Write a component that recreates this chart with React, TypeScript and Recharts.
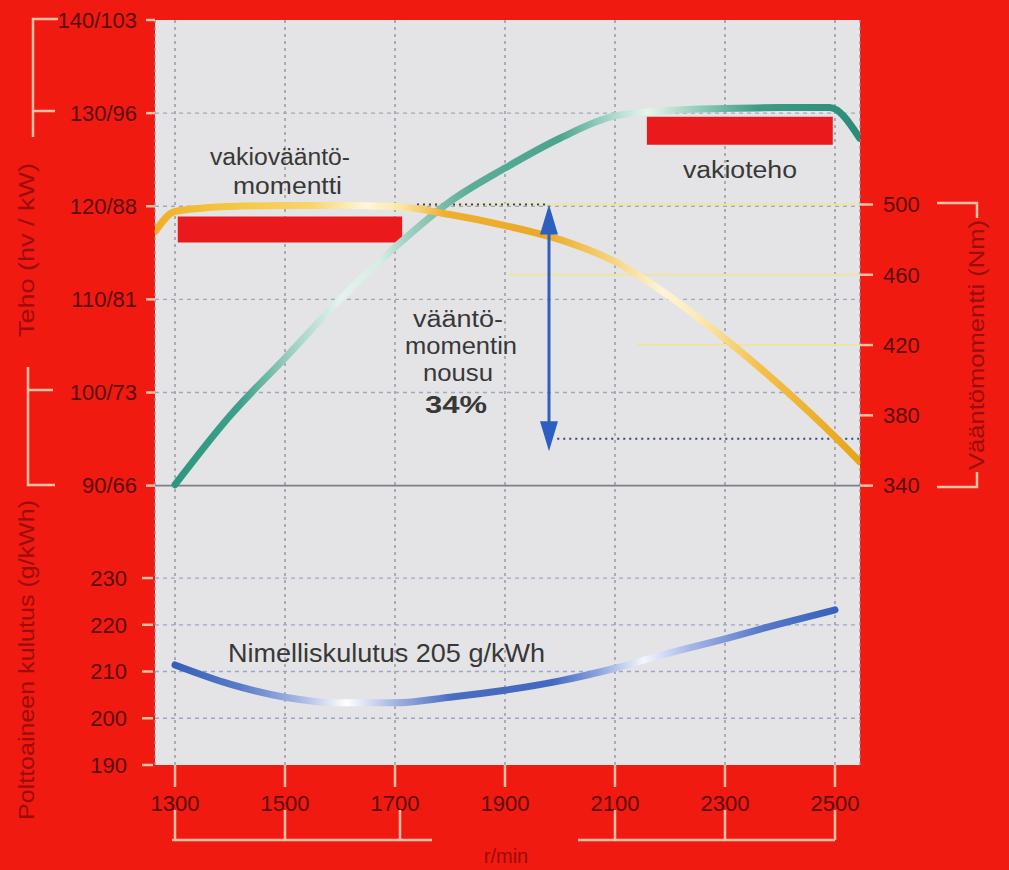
import React from 'react';
import {
  ComposedChart,
  Line,
  XAxis,
  YAxis,
  CartesianGrid,
  ReferenceLine,
  ReferenceArea,
} from 'recharts';

// engine speed ticks (r/min)
const rpmTicks = [1300, 1500, 1700, 1900, 2100, 2300, 2500];

// power curve (hv)
const powerRpm = [1300, 1400, 1500, 1600, 1700, 1800, 1900, 2000, 2100, 2200, 2300, 2400, 2490, 2545];
const powerHp = [90.1, 97.5, 103.7, 110, 115.6, 120.5, 124.1, 127.3, 129.7, 130.3, 130.5, 130.6, 130.6, 127.3];

// torque curve (Nm)
const torqueRpm = [1264, 1300, 1400, 1500, 1600, 1700, 1800, 1900, 2000, 2100, 2200, 2300, 2400, 2500, 2545];
const torqueNm = [484.6, 496, 498.8, 499.4, 499.4, 498.8, 494.3, 488, 480, 467.5, 447.6, 423.6, 397, 367.8, 353.6];

// fuel consumption (g/kWh)
const fuelRpm = [1300, 1400, 1500, 1600, 1700, 1800, 1900, 2000, 2100, 2200, 2300, 2400, 2500];
const fuelG = [211.4, 207.3, 204.5, 203.3, 203.3, 204.5, 206, 208, 210.7, 214, 217, 220.2, 223.2];

// axis ticks and labels
const powerTicks = [90, 100, 110, 120, 130, 140];
const powerLabels = ['90/66', '100/73', '110/81', '120/88', '130/96', '140/103'];
const fuelTicks = [190, 200, 210, 220, 230];
const torqueTicks = [340, 380, 420, 460, 500];

// annotations
const constTorqueBand = { x1: 1305, x2: 1713, y1: 116.1, y2: 118.9 };
const constPowerBand = { x1: 2158, x2: 2496, y1: 126.6, y2: 129.6 };
const riseRpm = 1980;
const riseTop = 500;
const riseBottom = 359.5;
const riseLevel = 366.7;

const allRpm = Array.from(new Set([...powerRpm, ...torqueRpm, ...fuelRpm])).sort((a, b) => a - b);
const pick = (xs: number[], ys: number[], r: number) => {
  const i = xs.indexOf(r);
  return i >= 0 ? ys[i] : null;
};
const chartData = allRpm.map((r) => ({
  rpm: r,
  power: pick(powerRpm, powerHp, r),
  torque: pick(torqueRpm, torqueNm, r),
  fuel: pick(fuelRpm, fuelG, r),
}));

const RED = '#f01a10';
const PLOT_BG = '#e4e4e6';
const LABEL = '#5a0d0d';
const TITLE = '#9c0c0c';
const PALE = '#f6bfa6';
const ARROW = '#2c5fbf';
const TEXT = '#383838';
const FONT = 'Liberation Sans, Arial, sans-serif';

const fuelTick = (text: string) => (props: any) => {
  const { x, y } = props.viewBox;
  return (
    <g>
      <line x1={x - 13} x2={x - 2} y1={y} y2={y} stroke={PALE} strokeWidth={2.5} />
      <text x={x - 28} y={y} dy="0.36em" textAnchor="end" fill={LABEL} fontSize={22} fontFamily={FONT}>
        {text}
      </text>
    </g>
  );
};

const DoubleArrow = (p: any) => {
  const x = p.x1;
  const top = Math.min(p.y1, p.y2);
  const bot = Math.max(p.y1, p.y2);
  const hw = 9;
  const hh = 30;
  return (
    <g>
      <line x1={x} x2={x} y1={top + hh - 2} y2={bot - hh + 2} stroke={ARROW} strokeWidth={3} />
      <path d={`M${x},${top} L${x - hw},${top + hh} L${x + hw},${top + hh} Z`} fill={ARROW} />
      <path d={`M${x},${bot} L${x - hw},${bot - hh} L${x + hw},${bot - hh} Z`} fill={ARROW} />
    </g>
  );
};

export default function App() {
  return (
    <div
      style={{
        position: 'absolute',
        left: 0,
        top: 0,
        width: 1009,
        height: 870,
        background: RED,
        overflow: 'hidden',
      }}
    >
      <ComposedChart
        width={1009}
        height={870}
        data={chartData}
        margin={{ top: 20, right: 89, bottom: 65, left: 15 }}
      >
        <defs>
          <linearGradient id="gPower" x1="0" y1="0" x2="1" y2="0">
            <stop offset="0" stopColor="#2e9680" />
            <stop offset="0.095" stopColor="#3ea08a" />
            <stop offset="0.17" stopColor="#9fd0c2" />
            <stop offset="0.24" stopColor="#e4f2ee" />
            <stop offset="0.3" stopColor="#d6ece4" />
            <stop offset="0.34" stopColor="#9fd0c0" />
            <stop offset="0.43" stopColor="#5aae98" />
            <stop offset="0.56" stopColor="#4aa48e" />
            <stop offset="0.65" stopColor="#b8e0d4" />
            <stop offset="0.69" stopColor="#e8f4ec" />
            <stop offset="0.77" stopColor="#8ccab6" />
            <stop offset="0.85" stopColor="#3e9c86" />
            <stop offset="1" stopColor="#2a8c78" />
          </linearGradient>
          <linearGradient id="gTorque" x1="0" y1="0" x2="1" y2="0">
            <stop offset="0" stopColor="#efae28" />
            <stop offset="0.08" stopColor="#f4c23a" />
            <stop offset="0.22" stopColor="#f7d56a" />
            <stop offset="0.3" stopColor="#fff6dc" />
            <stop offset="0.35" stopColor="#fbe6a0" />
            <stop offset="0.41" stopColor="#eeb030" />
            <stop offset="0.55" stopColor="#eaa828" />
            <stop offset="0.63" stopColor="#f3cc6a" />
            <stop offset="0.72" stopColor="#fff4d8" />
            <stop offset="0.77" stopColor="#fbeab8" />
            <stop offset="0.86" stopColor="#f2c04a" />
            <stop offset="1" stopColor="#e8a418" />
          </linearGradient>
          <linearGradient id="gFuel" x1="0" y1="0" x2="1" y2="0">
            <stop offset="0" stopColor="#3660b8" />
            <stop offset="0.1" stopColor="#5a7cc8" />
            <stop offset="0.19" stopColor="#a8b8e4" />
            <stop offset="0.26" stopColor="#ffffff" />
            <stop offset="0.34" stopColor="#9aaedf" />
            <stop offset="0.42" stopColor="#4a6cc0" />
            <stop offset="0.57" stopColor="#4468c0" />
            <stop offset="0.64" stopColor="#8aa2dc" />
            <stop offset="0.71" stopColor="#f4f6ff" />
            <stop offset="0.78" stopColor="#a6b6e6" />
            <stop offset="0.89" stopColor="#5678c8" />
            <stop offset="1" stopColor="#3a62ba" />
          </linearGradient>
        </defs>

        <CartesianGrid
          xAxisId={0}
          yAxisId="power"
          horizontal={false}
          stroke="#8e9098"
          strokeDasharray="3 4"
          strokeWidth={1.3}
          fill={PLOT_BG}
          fillOpacity={1}
        />

        <XAxis
          type="number"
          dataKey="rpm"
          domain={[1263.6, 2545.5]}
          ticks={rpmTicks}
          allowDataOverflow
          height={40}
          axisLine={false}
          tickSize={22}
          tickMargin={8}
          tickLine={{ stroke: PALE, strokeWidth: 2.5 }}
          tick={{ fill: LABEL, fontSize: 22, fontFamily: FONT }}
        />
        <YAxis
          yAxisId="power"
          orientation="left"
          width={140}
          domain={[60, 140]}
          ticks={powerTicks}
          allowDataOverflow
          axisLine={false}
          tickSize={9}
          tickMargin={9}
          tickLine={{ stroke: PALE, strokeWidth: 2.5 }}
          tick={{ fill: LABEL, fontSize: 22, fontFamily: FONT }}
          tickFormatter={(v: number) => powerLabels[powerTicks.indexOf(v)] ?? ''}
        />
        <YAxis yAxisId="fuel" hide width={0} domain={[190, 349.4]} allowDataOverflow />
        <YAxis
          yAxisId="torque"
          orientation="right"
          width={60}
          domain={[181, 605]}
          ticks={torqueTicks}
          allowDataOverflow
          axisLine={false}
          tickSize={13}
          tickMargin={10}
          tickLine={{ stroke: PALE, strokeWidth: 2.5 }}
          tick={{ fill: LABEL, fontSize: 22, fontFamily: FONT, textAnchor: 'start' }}
        />

        {/* horizontal grid, power panel */}
        {powerTicks
          .filter((t) => t > 90 && t < 140)
          .map((t) => (
            <ReferenceLine
              key={`p${t}`}
              yAxisId="power"
              y={t}
              stroke="#a3a7bb"
              strokeDasharray="4 4"
              strokeWidth={1.3}
            />
          ))}
        <ReferenceLine yAxisId="power" y={90} stroke="#7c7e88" strokeWidth={1.6} />

        {/* horizontal grid + tick labels, fuel panel */}
        {fuelTicks.map((t) => (
          <ReferenceLine
            key={`f${t}`}
            yAxisId="fuel"
            y={t}
            stroke={t === 190 ? 'none' : '#9ea4c4'}
            strokeDasharray="4 4"
            strokeWidth={1.3}
            label={fuelTick(String(t))}
          />
        ))}

        {/* pale torque grid on the right */}
        <ReferenceLine yAxisId="torque" segment={[{ x: 1740, y: 500 }, { x: 2545, y: 500 }]} stroke="#efe4a4" strokeWidth={2} />
        <ReferenceLine yAxisId="torque" segment={[{ x: 1905, y: 460 }, { x: 2545, y: 460 }]} stroke="#efe4a4" strokeWidth={2} />
        <ReferenceLine yAxisId="torque" segment={[{ x: 2140, y: 420 }, { x: 2545, y: 420 }]} stroke="#efe4a4" strokeWidth={2} />

        <ReferenceArea
          yAxisId="power"
          x1={constTorqueBand.x1}
          x2={constTorqueBand.x2}
          y1={constTorqueBand.y1}
          y2={constTorqueBand.y2}
          fill="#ea1a1c"
          fillOpacity={1}
          stroke="none"
        />
        <ReferenceArea
          yAxisId="power"
          x1={constPowerBand.x1}
          x2={constPowerBand.x2}
          y1={constPowerBand.y1}
          y2={constPowerBand.y2}
          fill="#ea1a1c"
          fillOpacity={1}
          stroke="none"
        />

        {/* torque rise markers */}
        <ReferenceLine
          yAxisId="torque"
          segment={[{ x: 1740, y: riseTop }, { x: riseRpm, y: riseTop }]}
          stroke="#34447e"
          strokeDasharray="2 4"
          strokeWidth={2}
        />
        <ReferenceLine
          yAxisId="torque"
          segment={[{ x: riseRpm + 15, y: riseLevel }, { x: 2545, y: riseLevel }]}
          stroke="#34447e"
          strokeDasharray="2 4"
          strokeWidth={2}
        />

        <Line
          yAxisId="fuel"
          type="monotone"
          dataKey="fuel"
          stroke="url(#gFuel)"
          strokeWidth={7}
          strokeLinecap="round"
          dot={false}
          activeDot={false}
          connectNulls
          isAnimationActive={false}
        />
        <Line
          yAxisId="power"
          type="monotone"
          dataKey="power"
          stroke="url(#gPower)"
          strokeWidth={7}
          strokeLinecap="round"
          dot={false}
          activeDot={false}
          connectNulls
          isAnimationActive={false}
        />
        <Line
          yAxisId="torque"
          type="monotone"
          dataKey="torque"
          stroke="url(#gTorque)"
          strokeWidth={7}
          strokeLinecap="round"
          dot={false}
          activeDot={false}
          connectNulls
          isAnimationActive={false}
        />

        <ReferenceLine
          yAxisId="torque"
          segment={[{ x: riseRpm, y: riseTop }, { x: riseRpm, y: riseBottom }]}
          shape={DoubleArrow}
        />
      </ComposedChart>

      <svg
        width={1009}
        height={870}
        style={{ position: 'absolute', left: 0, top: 0, pointerEvents: 'none' }}
      >
        {/* axis brackets */}
        <g stroke={PALE} strokeWidth={2.5} fill="none">
          <path d="M58,19 H33 V137 M33,111 H55" />
          <path d="M28,367 V485 H55 M28,390 H53" />
          <path d="M937,203 H977 V218 M937,487 H977 V472" />
          <path d="M175,810 V840 M285,810 V840 M400,810 V840 M172,840 H432" />
          <path d="M615,810 V840 M725,810 V840 M835,810 V840 M578,840 H835" />
        </g>

        {/* axis titles */}
        <text
          transform="translate(26,250) rotate(-90)"
          textAnchor="middle"
          dy="0.36em"
          fill={TITLE}
          fontSize={22}
          fontFamily={FONT}
          textLength={174}
          lengthAdjust="spacingAndGlyphs"
        >
          Teho (hv / kW)
        </text>
        <text
          transform="translate(26,660) rotate(-90)"
          textAnchor="middle"
          dy="0.36em"
          fill={TITLE}
          fontSize={22}
          fontFamily={FONT}
          textLength={320}
          lengthAdjust="spacingAndGlyphs"
        >
          Polttoaineen kulutus (g/kWh)
        </text>
        <text
          transform="translate(976,345) rotate(-90)"
          textAnchor="middle"
          dy="0.36em"
          fill={TITLE}
          fontSize={22}
          fontFamily={FONT}
          textLength={250}
          lengthAdjust="spacingAndGlyphs"
        >
          Vääntömomentti (Nm)
        </text>
        <text x={506} y={863} textAnchor="middle" fill={TITLE} fontSize={20} fontFamily={FONT}>
          r/min
        </text>

        {/* annotations inside the plot */}
        <g fill={TEXT} fontFamily={FONT} fontSize={23}>
          <text x={210} y={165} textLength={140} lengthAdjust="spacingAndGlyphs">vakiovääntö-</text>
          <text x={233} y={194} textLength={109} lengthAdjust="spacingAndGlyphs">momentti</text>
          <text x={683} y={178} textLength={114} lengthAdjust="spacingAndGlyphs">vakioteho</text>
          <text x={413} y={327} textLength={90} lengthAdjust="spacingAndGlyphs">vääntö-</text>
          <text x={405} y={354} textLength={112} lengthAdjust="spacingAndGlyphs">momentin</text>
          <text x={423} y={381} textLength={70} lengthAdjust="spacingAndGlyphs">nousu</text>
          <text x={425} y={413} fontWeight={700} fontSize={24} textLength={62} lengthAdjust="spacingAndGlyphs">
            34%
          </text>
          <text x={228} y={662} fontSize={26} textLength={317} lengthAdjust="spacingAndGlyphs">
            Nimelliskulutus 205 g/kWh
          </text>
        </g>
      </svg>
    </div>
  );
}
